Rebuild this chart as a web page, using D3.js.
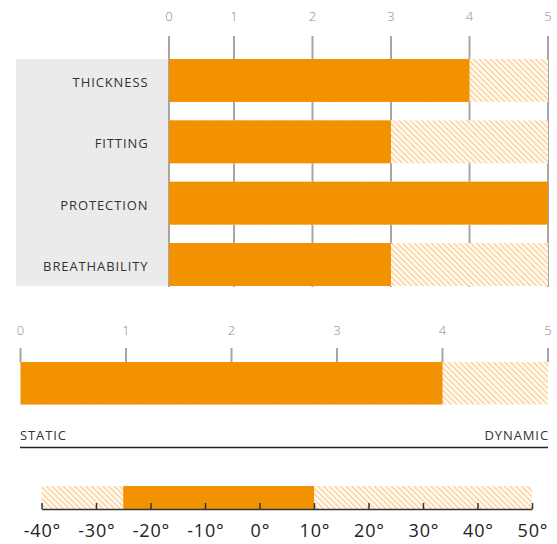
<!DOCTYPE html>
<html><head><meta charset="utf-8">
<script src="https://cdn.jsdelivr.net/npm/d3@7"></script>
<style>
html,body{margin:0;padding:0;background:#fff;}
svg{display:block;}
text{font-family:"Open Sans","DejaVu Sans",sans-serif;}
</style></head>
<body>
<svg id="c" width="557" height="544"></svg>
<script>
// ---- data ----
const categories = ["THICKNESS", "FITTING", "PROTECTION", "BREATHABILITY"];
const ratings = [4, 3, 5, 3];
const ratingTicks = [0, 1, 2, 3, 4, 5];
const ratingMax = 5;

const activityValue = 4;
const activityTicks = [0, 1, 2, 3, 4, 5];
const activityEnds = ["STATIC", "DYNAMIC"];

const tempRange = [-25, 10];
const tempDomain = [-40, 50];
const tempTicks = [-40, -30, -20, -10, 0, 10, 20, 30, 40, 50];

// ---- styles ----
const ORANGE = "#f29200";
const HATCH = "#fdd9a8";
const GRID = "#a6a6a6";

const svg = d3.select("#c");
const defs = svg.append("defs");
const pat = defs.append("pattern").attr("id", "hatch")
  .attr("patternUnits", "userSpaceOnUse").attr("width", 4).attr("height", 4)
  .attr("patternTransform", "rotate(-45)");
pat.append("rect").attr("width", 4).attr("height", 4).attr("fill", "#fff");
pat.append("rect").attr("width", 2).attr("height", 4).attr("fill", HATCH);

// ===== chart 1 =====
const x1 = d3.scaleLinear().domain([0, 1, ratingMax]).range([169, 234, 548]);
const y1 = d3.scaleBand().domain(categories).range([59, 286]).paddingInner(0.3).paddingOuter(0);
const g1 = svg.append("g");

g1.append("rect").attr("x", 16).attr("y", 59).attr("width", x1(0) - 16).attr("height", 286 - 59)
  .attr("fill", "#ebebeb");

g1.selectAll("line.grid").data(ratingTicks).join("line").attr("class", "grid")
  .attr("x1", d => x1(d)).attr("x2", d => x1(d)).attr("y1", 36).attr("y2", 287)
  .attr("stroke", GRID).attr("stroke-width", 2);

g1.selectAll("text.tick").data(ratingTicks).join("text").attr("class", "tick")
  .attr("x", d => x1(d)).attr("y", 16).attr("dy", "0.35em").attr("text-anchor", "middle")
  .attr("fill", "#8a8a8a").attr("font-size", 13).attr("font-weight", 300).text(d => d);

g1.selectAll("rect.bg").data(categories).join("rect").attr("class", "bg")
  .attr("x", x1(0)).attr("y", d => y1(d)).attr("width", x1(ratingMax) - x1(0))
  .attr("height", y1.bandwidth()).attr("fill", "url(#hatch)");

g1.selectAll("rect.bar").data(categories).join("rect").attr("class", "bar")
  .attr("x", x1(0)).attr("y", d => y1(d)).attr("width", (d, i) => x1(ratings[i]) - x1(0))
  .attr("height", y1.bandwidth()).attr("fill", ORANGE);

g1.selectAll("text.cat").data(categories).join("text").attr("class", "cat")
  .attr("x", 148.5).attr("y", d => y1(d) + y1.bandwidth() / 2 + 2).attr("dy", "0.35em")
  .attr("text-anchor", "end").attr("fill", "#333").attr("font-size", 13)
  .attr("letter-spacing", "0.9px").text(d => d);

// ===== chart 2 =====
const x2 = d3.scaleLinear().domain([0, 5]).range([20.5, 548]);
const g2 = svg.append("g");
g2.selectAll("line.tk").data(activityTicks).join("line").attr("class", "tk")
  .attr("x1", d => x2(d)).attr("x2", d => x2(d)).attr("y1", 348).attr("y2", 362)
  .attr("stroke", GRID).attr("stroke-width", 2);
g2.selectAll("text.tk").data(activityTicks).join("text").attr("class", "tk")
  .attr("x", d => x2(d)).attr("y", 330).attr("dy", "0.35em").attr("text-anchor", "middle")
  .attr("fill", "#8a8a8a").attr("font-size", 13).attr("font-weight", 300).text(d => d);
g2.append("rect").attr("x", x2(0)).attr("y", 362).attr("width", x2(5) - x2(0)).attr("height", 42.5)
  .attr("fill", "url(#hatch)");
g2.append("rect").attr("x", x2(0)).attr("y", 362).attr("width", x2(activityValue) - x2(0)).attr("height", 42.5)
  .attr("fill", ORANGE);
g2.append("text").attr("x", 20).attr("y", 435).attr("dy", "0.35em").attr("fill", "#333")
  .attr("font-size", 13).attr("letter-spacing", "0.9px").text(activityEnds[0]);
g2.append("text").attr("x", 549).attr("y", 435).attr("dy", "0.35em").attr("text-anchor", "end")
  .attr("fill", "#333").attr("font-size", 13).attr("letter-spacing", "0.9px").text(activityEnds[1]);
g2.append("line").attr("x1", 20).attr("x2", 548).attr("y1", 447.5).attr("y2", 447.5)
  .attr("stroke", "#222").attr("stroke-width", 1.5);

// ===== chart 3 =====
const x3 = d3.scaleLinear().domain(tempDomain).range([41.5, 532]);
const g3 = svg.append("g");
g3.append("rect").attr("x", x3(tempDomain[0])).attr("y", 486).attr("width", x3(tempDomain[1]) - x3(tempDomain[0]))
  .attr("height", 23).attr("fill", "url(#hatch)");
g3.append("rect").attr("x", x3(tempRange[0])).attr("y", 486).attr("width", x3(tempRange[1]) - x3(tempRange[0]))
  .attr("height", 23).attr("fill", ORANGE);
const ax = g3.append("g").attr("transform", "translate(0,509)")
  .call(d3.axisBottom(x3).tickValues(tempTicks).tickSizeInner(-6).tickSizeOuter(0).tickPadding(15)
    .tickFormat(d => d + "°"));
ax.select(".domain").attr("stroke", "#333").attr("stroke-width", 1.5);
ax.selectAll(".tick line").attr("stroke", "#333").attr("stroke-width", 1.5);
ax.selectAll(".tick text").attr("fill", "#222").attr("font-size", 18)
  .attr("letter-spacing", "0.8px").attr("dx", "0.4px")
  .attr("font-family", "'DejaVu Sans',sans-serif");
</script>
</body></html>
